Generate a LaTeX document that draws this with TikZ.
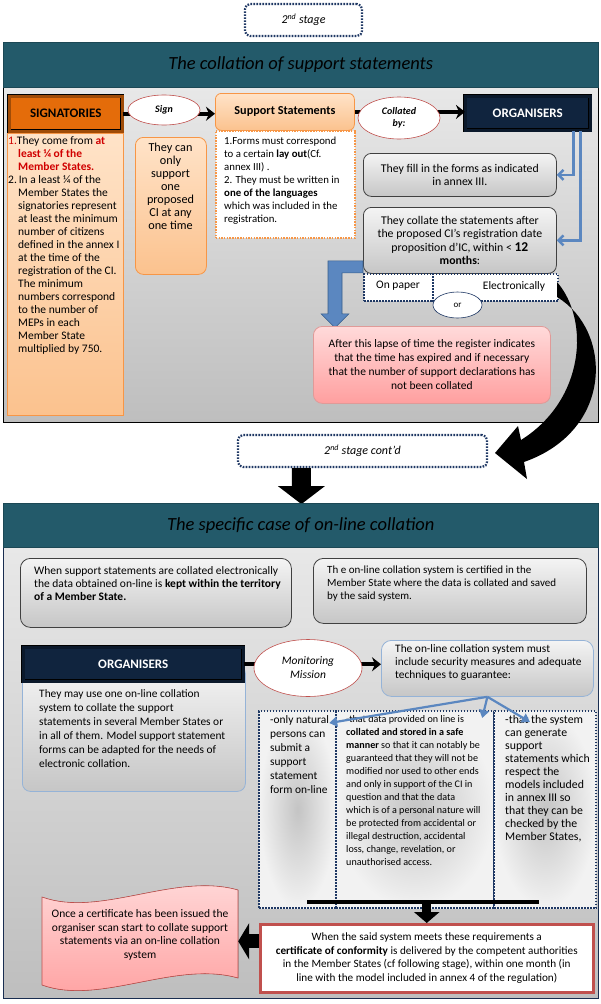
\documentclass[tikz,border=0pt]{standalone}
\usepackage{fontspec}
\setmainfont{Carlito}
\usetikzlibrary{calc, arrows.meta, positioning, shapes.geometric}

\definecolor{headteal}{HTML}{235A6A}
\definecolor{navybox}{HTML}{10243E}
\definecolor{sigorange}{HTML}{E46C0A}
\definecolor{peachtop}{HTML}{FFE3C8}
\definecolor{peachbot}{HTML}{FBC28E}
\definecolor{peachedge}{HTML}{F79646}
\definecolor{ovaledge}{HTML}{C0504D}
\definecolor{graytop}{HTML}{F4F4F4}
\definecolor{graybot}{HTML}{C6C6C6}
\definecolor{grayedge}{HTML}{404040}
\definecolor{bluecon}{HTML}{5B87C0}
\definecolor{blueedge}{HTML}{385D8A}
\definecolor{softblue}{HTML}{95B3D7}
\definecolor{pinktop}{HTML}{FFDADA}
\definecolor{pinkbot}{HTML}{FF9F9F}
\definecolor{pinkedge}{HTML}{E09A98}
\definecolor{dotnavy}{HTML}{1F3864}
\definecolor{paneltop}{HTML}{E8E8E8}
\definecolor{panelbot}{HTML}{BEBEBE}
\definecolor{sigred}{HTML}{D00000}
\definecolor{colmid}{HTML}{C4C4C4}
\definecolor{colout}{HTML}{F2F2F2}

\tikzset{
  every node/.style={font=\fontsize{11.5}{13}\selectfont},
  header/.style={anchor=north west, fill=headteal, draw=headteal!80!black, minimum width=595, minimum height=45, inner sep=0pt, font=\fontsize{18.5}{20}\selectfont\itshape},
  panel/.style={anchor=north west, draw=#1, line width=0.8pt, top color=paneltop, bottom color=panelbot, minimum width=595, inner sep=0pt},
  stagebox/.style={draw=dotnavy, line width=2.2pt, dash pattern=on 1.6pt off 1.4pt, rounded corners=5pt, fill=white, font=\fontsize{12}{14}\selectfont\itshape},
  bevel/.style={anchor=north west, draw=black, line width=0.5pt, double=#1!70!black, double distance=3pt, fill=#1, inner sep=0pt, font=\fontsize{13}{14}\selectfont\bfseries},
  peachbox/.style={anchor=north west, draw=peachedge, line width=0.8pt, top color=peachtop, bottom color=peachbot, inner sep=0pt},
  oval/.style={ellipse, draw=ovaledge, fill=white, line width=0.6pt, inner sep=0pt, font=\fontsize{10}{12}\selectfont\bfseries\itshape, align=center},
  graybox/.style={anchor=north west, draw=#1, line width=0.8pt, rounded corners=8pt, top color=graytop, bottom color=graybot, inner sep=0pt, align=center, font=\fontsize{11.8}{13.5}\selectfont},
  graybox/.default=grayedge,
  dotbox/.style={anchor=north west, draw=dotnavy, line width=2.2pt, dash pattern=on 1.6pt off 1.4pt, inner sep=0pt},
  pinkbox/.style={anchor=north west, draw=pinkedge, line width=0.8pt, rounded corners=9pt, top color=pinktop, bottom color=pinkbot, inner sep=0pt, align=center, font=\fontsize{11.5}{14}\selectfont},
  txt/.style={anchor=north west, inner sep=0pt, align=left},
  blk/.style={line width=4pt, -{Stealth[length=9pt, width=14pt]}},
  bluelink/.style={draw=bluecon, line width=2.4pt, -{Straight Barb[length=5pt, width=10pt]}},
  bluearr/.style={draw=bluecon, line width=2.2pt, -{Triangle[length=8pt, width=10pt]}},
}

\begin{document}
\begin{tikzpicture}[x=1pt, y=-1pt]
        \useasboundingbox (0,0) rectangle (601,1004);
        \fill[white] (0,0) rectangle (601,1004);

        % Stage label
        \node[stagebox, minimum width=117, minimum height=32] (stage) at (303.5,20) {2\textsuperscript{nd} stage};

        % Upper panel
        \node[panel=black, minimum height=336] (panelA) at (3,86) {};
        \node[header] (headA) at (3,42) {The collation of support statements};

        % Signatories
        \node[bevel=sigorange, minimum width=113, minimum height=35] (sig) at (9,96) {SIGNATORIES};
        \node[peachbox, minimum width=116, minimum height=282] (sigbody) at (7,133) {};
        \node[txt, font=\fontsize{11.5}{13}\selectfont] (sigtext) at (8,136) {\textcolor{sigred}{1.}They come from \textcolor{sigred}{\bfseries at}\\
          \hspace*{10pt}\textcolor{sigred}{\bfseries least ¼ of the}\\
          \hspace*{10pt}\textcolor{sigred}{\bfseries Member States.}\\
          2.\,In a least ¼ of the\\
          \hspace*{10pt}Member States the\\
          \hspace*{10pt}signatories represent\\
          \hspace*{10pt}at least the minimum\\
          \hspace*{10pt}number of citizens\\
          \hspace*{10pt}defined in the annex I\\
          \hspace*{10pt}at the time of the\\
          \hspace*{10pt}registration of the CI.\\
          \hspace*{10pt}The minimum\\
          \hspace*{10pt}numbers correspond\\
          \hspace*{10pt}to the number of\\
          \hspace*{10pt}MEPs in each\\
          \hspace*{10pt}Member State\\
          \hspace*{10pt}multiplied by 750.};

        % Only one CI
        \node[peachbox, rounded corners=8pt, minimum width=71, minimum height=137] (onlyone) at (135,137) {};
        \node[txt, anchor=north, align=center, font=\fontsize{12.2}{13}\selectfont] (onlytext) at (170.5,143) {They can\\only\\support\\one\\proposed\\CI at any\\one time};

        % Support statements
        \node[peachbox, rounded corners=6pt, minimum width=139, minimum height=37, font=\fontsize{12.2}{14}\selectfont\bfseries] (supp) at (215,93) {Support Statements};
        \node[anchor=north west, draw=peachedge, line width=1.6pt, dash pattern=on 1.5pt off 1.2pt, fill=white, minimum width=139, minimum height=107, inner sep=0pt] (suppbody) at (215,130) {};
        \node[txt, font=\fontsize{10.8}{13}\selectfont] (supptext) at (224,137) {1.Forms must correspond\\to a certain \textbf{lay out}(Cf.\\annex III) .\\2. They must be written in\\\textbf{one of the languages}\\which was included in the\\registration.};

        % Organisers
        \node[bevel=navybox, text=white, minimum width=125, minimum height=34] (org) at (465,96) {ORGANISERS};

        % Sign / collated arrows
        \draw[blk] (sig.east) -- (sig.east -| supp.west);
        \node[oval, minimum width=72, minimum height=30] (sign) at (164,110) {Sign};
        \draw[blk] (supp.east) -- (supp.east -| org.west);
        \node[oval, minimum width=82, minimum height=42] (coll) at (399,118) {Collated\\by:};

        % Organisers tasks
        \node[graybox, minimum width=193, minimum height=43] (fillbox) at (363,153) {They fill in the forms as indicated\\in annex III.};
        \node[graybox, minimum width=193, minimum height=66] (collbox) at (363,207) {They collate the statements after\\the proposed CI’s registration date\\proposition d’IC, within < \textbf{\fontsize{13.5}{13}\selectfont 12}\\\textbf{months}:};
        \draw[bluelink] ([xshift=-17pt]org.south east) |- (fillbox.east);
        \draw[bluelink] ([xshift=-10pt]org.south east) |- (collbox.east);

        % Paper or electronic
        \node[dotbox, fill=white, minimum width=194, minimum height=27] (paperbox) at (363,273) {};
        \draw[dotnavy, line width=2.2pt, dash pattern=on 1.6pt off 1.4pt] ([xshift=70pt]paperbox.north west) -- ([xshift=70pt]paperbox.south west);
        \node (onpaper) at (398,286) {On paper};
        \node (elec) at (514,286) {Electronically};
        \node[oval, draw=dotnavy, font=\fontsize{9}{10}\selectfont, minimum width=49, minimum height=26] (orov) at (457.5,305) {or};

        % Bent block arrow
        \filldraw[fill=bluecon, draw=blueedge, line width=0.6pt] ([yshift=13pt]collbox.south west) -- ++(-35,0) -- ++(0,53) -- ++(-7,0) -- ++(14,14) -- ++(14,-14) -- ++(-7,0) -- ++(0,-41) -- ++(21,0) -- cycle;

        % Time expired
        \node[pinkbox, minimum width=237, minimum height=77] (expired) at (313,326) {After this lapse of time the register indicates\\that the time has expired and if necessary\\that the number of support declarations has\\not been collated};

        % Stage continued
        \node[stagebox, minimum width=249, minimum height=32] (stage2) at (362.5,451) {2\textsuperscript{nd} stage cont’d};

        % Curved arrow
        \fill[black] (557,297) .. controls (612,330) and (615,430) .. (524,462) -- (527,479) -- (495,453) -- (518,426) -- (521,440) .. controls (585,400) and (590,320) .. (557,282) -- cycle;

        % Down block arrow
        \fill[black] ([xshift=55pt]stage2.south west) -- ++(19,0) -- ++(0,18) -- ++(14,0) -- ++(-23.5,18) -- ++(-23.5,-18) -- ++(14,0) -- cycle;

        % Lower panel
        \node[panel=dotnavy!80!black, minimum height=451] (panelB) at (3,547) {};
        \node[header, minimum height=44] (headB) at (3,503) {The specific case of on-line collation};

        % Territory and certification
        \node[graybox, minimum width=271, minimum height=69, rounded corners=10pt] (elecbox) at (20,558) {};
        \node[txt] (electext) at (34,566) {When support statements are collated electronically\\the data obtained on-line is \textbf{kept within the territory}\\\textbf{of a Member State.}};
        \node[graybox, minimum width=273, minimum height=65, rounded corners=10pt] (certsys) at (313,558) {};
        \node[txt, font=\fontsize{11}{13}\selectfont] (certsystext) at (327,566) {Th e on-line collation system is certified in the\\Member State where the data is collated and saved\\by the said system.};

        % Organisers (on-line)
        \node[graybox=softblue, minimum width=223, minimum height=126] (orgbody) at (22,665) {};
        \node[bevel=navybox, text=white, minimum width=220, minimum height=34] (orgB) at (23,647) {ORGANISERS};
        \node[txt, font=\fontsize{11.4}{14}\selectfont] (orgtext) at (39,689) {They may use one on-line collation\\system to collate the support\\statements in several Member States or\\in all of them. Model support statement\\forms can be adapted for the needs of\\electronic collation.};

        % Security measures
        \node[graybox=softblue, minimum width=212, minimum height=56, rounded corners=10pt] (online) at (381,640) {};
        \node[txt, font=\fontsize{11.4}{13}\selectfont] (onlinetext) at (395,644) {The  on-line collation system must\\include security measures and adequate\\techniques to guarantee:};
        \draw[blk] (orgB.east) -- (orgB.east -| online.west);
        \node[oval, font=\fontsize{11.5}{14}\selectfont\itshape, minimum width=108, minimum height=57] (mon) at (308,668) {Monitoring\\Mission};

        % Guarantees
        \node[dotbox, minimum width=77, minimum height=197, inner color=colmid, outer color=colout] (colA) at (258,710) {};
        \node[dotbox, minimum width=158, minimum height=197, inner color=colmid, outer color=colout] (colB) at (335,710) {};
        \node[dotbox, minimum width=102, minimum height=197, inner color=colmid, outer color=colout] (colC) at (493,710) {};
        \node[txt, font=\fontsize{11.4}{14}\selectfont] (colAtext) at (270,715) {-only natural\\persons can\\submit a\\support\\statement\\form on-line};
        \node[txt, font=\fontsize{10.1}{13}\selectfont] (colBtext) at (346,715) {-that data provided on line is\\\textbf{collated and stored in a safe}\\\textbf{manner} so that it can notably be\\guaranteed that they will not be\\modified nor used to other ends\\and only in support of the CI in\\question and that the data\\which is of a personal nature will\\be protected from accidental or\\illegal destruction, accidental\\loss, change, revelation, or\\unauthorised access.};
        \node[txt, font=\fontsize{11.8}{13}\selectfont] (colCtext) at (505,715) {-that the system\\can generate\\support\\statements which\\respect the\\models included\\in annex III so\\that they can be\\checked by the\\Member States,};
        \draw[bluearr] (online.south) -- ([shift={(-8,13)}]colA.north east);
        \draw[bluearr] (online.south) -- ([shift={(-13,8)}]colB.north east);
        \draw[bluearr] (online.south) -- ([shift={(37,12)}]colC.north west);

        % Certificate
        \node[anchor=north west, draw=ovaledge, line width=2.5pt, fill=white, minimum width=333, minimum height=68, inner sep=0pt, align=center, font=\fontsize{11.2}{13.5}\selectfont] (certbox) at (259,923) {When the said system meets these requirements a\\\textbf{certificate of conformity} is delivered by the competent authorities\\in the Member States (cf following stage), within one month (in\\line with the model included in annex 4 of the regulation)};
        \coordinate (barL) at (307,902);
        \coordinate (barR) at (539,902);
        \draw[line width=4pt] (barL) -- (barR);
        \draw[line width=9pt, -{Triangle[length=11pt, width=25pt]}] (barL -| certbox.north) -- (certbox.north);

        % Scroll
        \filldraw[draw=ovaledge, line width=0.6pt, top color=pinktop, bottom color=pinkbot] (42,897) .. controls (100,918) and (175,872) .. (238,890) -- (238,978) .. controls (175,960) and (100,1006) .. (42,985) -- cycle;
        \node[align=center, minimum width=196, font=\fontsize{11.5}{13.5}\selectfont] (scroll) at (140,935) {Once a certificate has been issued the\\organiser scan start to collate support\\statements via an on-line collation\\system};
        \draw[line width=14pt, -{Triangle[length=11pt, width=36pt]}] ([yshift=17pt]certbox.west) -- ([yshift=17pt]certbox.west -| scroll.east);
\end{tikzpicture}
\end{document}
